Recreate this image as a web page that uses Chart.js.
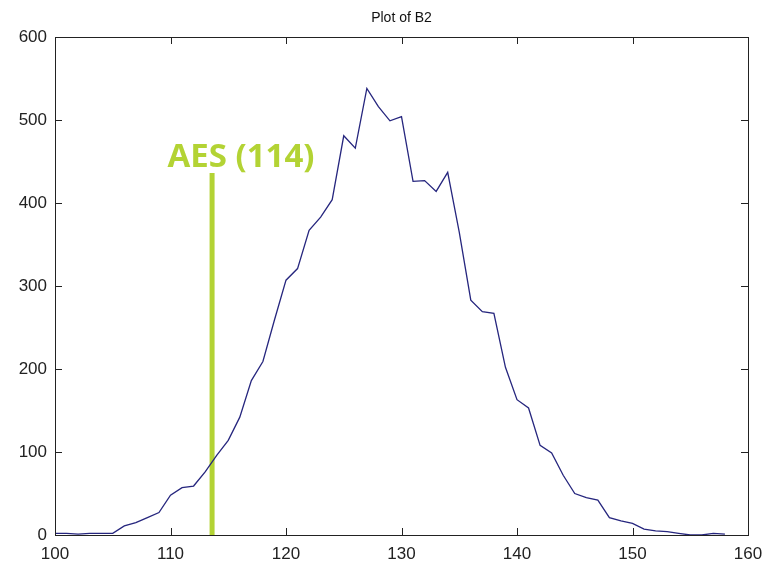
<!DOCTYPE html>
<html>
<head>
<meta charset="utf-8">
<script src="https://cdn.jsdelivr.net/npm/chart.js@4"></script>
<style>
  body { margin: 0; background: #fff; }
  #wrap { width: 768px; height: 567px; }
</style>
</head>
<body>
<div id="wrap"><canvas id="plot" width="768" height="567"></canvas></div>
<script>
// histogram values of B2, one per unit bin
const bins = [100, 101, 102, 103, 104, 105, 106, 107, 108, 109,
              110, 111, 112, 113, 114, 115, 116, 117, 118, 119,
              120, 121, 122, 123, 124, 125, 126, 127, 128, 129,
              130, 131, 132, 133, 134, 135, 136, 137, 138, 139,
              140, 141, 142, 143, 144, 145, 146, 147, 148, 149,
              150, 151, 152, 153, 154, 155, 156, 157, 158];
const counts = [2, 2, 1, 2, 2, 2, 11, 15, 21, 27,
                48, 57, 59, 76, 96, 114, 142, 186, 209, 259,
                307, 321, 367, 383, 404, 481, 466, 538, 516, 499,
                504, 426, 427, 414, 437, 365, 283, 269, 267, 202,
                163, 153, 108, 99, 72, 50, 45, 42, 21, 17,
                14, 7, 5, 4, 2, 0, 0, 2, 1];

const aesX = [113.6, 113.6];
const aesY = [0, 436];
const aesLabel = 'AES (114)';
const title = 'Plot of B2';

const green = '#b3d334';

// matlab style box with inward ticks
const boxPlugin = {
  id: 'box',
  afterDraw(chart) {
    const ctx = chart.ctx;
    const a = chart.chartArea;
    const xs = chart.scales.x, ys = chart.scales.y;
    ctx.save();
    ctx.strokeStyle = '#222';
    ctx.lineWidth = 1;
    ctx.strokeRect(a.left + 0.5, a.top + 0.5, a.right - a.left, a.bottom - a.top);
    ctx.beginPath();
    xs.ticks.forEach(t => {
      const px = Math.round(xs.getPixelForValue(t.value)) + 0.5;
      ctx.moveTo(px, a.bottom); ctx.lineTo(px, a.bottom - 7);
      ctx.moveTo(px, a.top); ctx.lineTo(px, a.top + 7);
    });
    ys.ticks.forEach(t => {
      const py = Math.round(ys.getPixelForValue(t.value)) + 0.5;
      ctx.moveTo(a.left, py); ctx.lineTo(a.left + 7, py);
      ctx.moveTo(a.right, py); ctx.lineTo(a.right - 7, py);
    });
    ctx.stroke();

    // title
    ctx.fillStyle = '#111';
    ctx.font = '14px "Liberation Sans", Arial, sans-serif';
    ctx.textAlign = 'center';
    ctx.textBaseline = 'middle';
    ctx.fillText(title, (a.left + a.right) / 2, 18);

    // AES label
    ctx.fillStyle = green;
    ctx.font = 'bold 33px "Open Sans", sans-serif';
    ctx.textBaseline = 'alphabetic';
    ctx.fillText(aesLabel, 241, 167);
    ctx.restore();
  }
};

new Chart(document.getElementById('plot'), {
  type: 'line',
  data: {
    datasets: [
      {
        data: bins.map((b, i) => ({ x: b, y: counts[i] })),
        borderColor: '#26267e',
        borderWidth: 1.3,
        pointRadius: 0,
        tension: 0
      },
      {
        data: aesX.map((v, i) => ({ x: v, y: aesY[i] })),
        borderColor: green,
        borderWidth: 5,
        pointRadius: 0,
        borderCapStyle: 'butt'
      }
    ]
  },
  options: {
    responsive: false,
    animation: false,
    layout: { padding: { top: 37, right: 20, left: 0, bottom: 0 } },
    plugins: { legend: { display: false }, tooltip: { enabled: false } },
    scales: {
      x: {
        type: 'linear',
        min: 100,
        max: 160,
        grid: { display: false, drawTicks: false },
        border: { display: false },
        ticks: {
          stepSize: 10,
          padding: 9,
          maxRotation: 0,
          color: '#222',
          font: { family: '"Liberation Sans", Arial, sans-serif', size: 17 }
        },
        afterFit(scale) {
          scale.height = 32;
          scale.paddingLeft = 0;
          scale.paddingRight = 0;
        }
      },
      y: {
        min: 0,
        max: 600,
        grid: { display: false, drawTicks: false },
        border: { display: false },
        ticks: {
          stepSize: 100,
          padding: 8,
          color: '#222',
          font: { family: '"Liberation Sans", Arial, sans-serif', size: 17 }
        },
        afterFit(scale) { scale.width = 55; }
      }
    }
  },
  plugins: [boxPlugin]
});
</script>
</body>
</html>
